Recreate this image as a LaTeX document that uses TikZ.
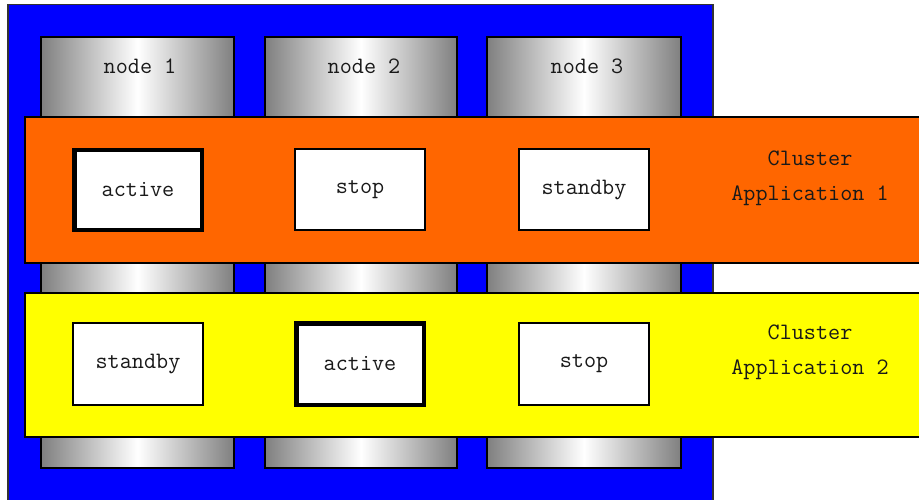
\documentclass[tikz,border=0pt]{standalone}
\usepackage{tikz}
\definecolor{bandorange}{RGB}{255,102,0}
\definecolor{bandyellow}{RGB}{255,255,0}
\definecolor{bgblue}{RGB}{0,0,255}
\tikzset{
  lbl/.style={font=\fontsize{23.5}{35}\selectfont\ttfamily, text=black!90, align=center, inner sep=0pt},
  column/.style={draw=black, line width=1.5pt, left color=black!50, right color=black!50, middle color=white, shading angle=90, inner sep=0pt},
  band/.style={draw=black, line width=1.5pt, inner sep=0pt},
  state/.style={lbl, draw=black, fill=white, line width=1.5pt, minimum width=130pt, minimum height=81pt},
  activestate/.style={state, line width=4.5pt, minimum width=127.5pt, minimum height=79.5pt}
}
\begin{document}
\begin{tikzpicture}[x=1pt, y=-1pt]
\useasboundingbox (0,0) rectangle (919,500);
% background
\node[draw=black!80, line width=1.5pt, fill=bgblue, minimum width=705pt, minimum height=510pt, inner sep=0pt] (bg) at (360.5,259.5) {};
% columns
\node[column, minimum width=193pt, minimum height=431pt] (col1) at (137.5,252.5) {};
\node[column, minimum width=192pt, minimum height=431pt] (col2) at (361,252.5) {};
\node[column, minimum width=194pt, minimum height=431pt] (col3) at (584,252.5) {};
\node[lbl] (n1) at (140,66) {node 1};
\node[lbl] (n2) at (364,66) {node 2};
\node[lbl] (n3) at (587,66) {node 3};
% bands
\node[band, fill=bandorange, minimum width=900pt, minimum height=146pt] (app1) at (475,190) {};
\node[band, fill=bandyellow, minimum width=900pt, minimum height=144pt] (app2) at (475,365) {};
% states row 1
\node[activestate] (a1n1) at (138,190) {active};
\node[state] (a1n2) at (360,189.5) {stop};
\node[state] (a1n3) at (584,189.5) {standby};
\node[lbl] (c1) at (810,178) {Cluster\\Application 1};
% states row 2
\node[state, minimum height=82pt] (a2n1) at (138,364) {standby};
\node[activestate, minimum height=81.5pt] (a2n2) at (360,364) {active};
\node[state, minimum height=82pt] (a2n3) at (584,364) {stop};
\node[lbl] (c2) at (810,352) {Cluster\\Application 2};
\end{tikzpicture}
\end{document}
